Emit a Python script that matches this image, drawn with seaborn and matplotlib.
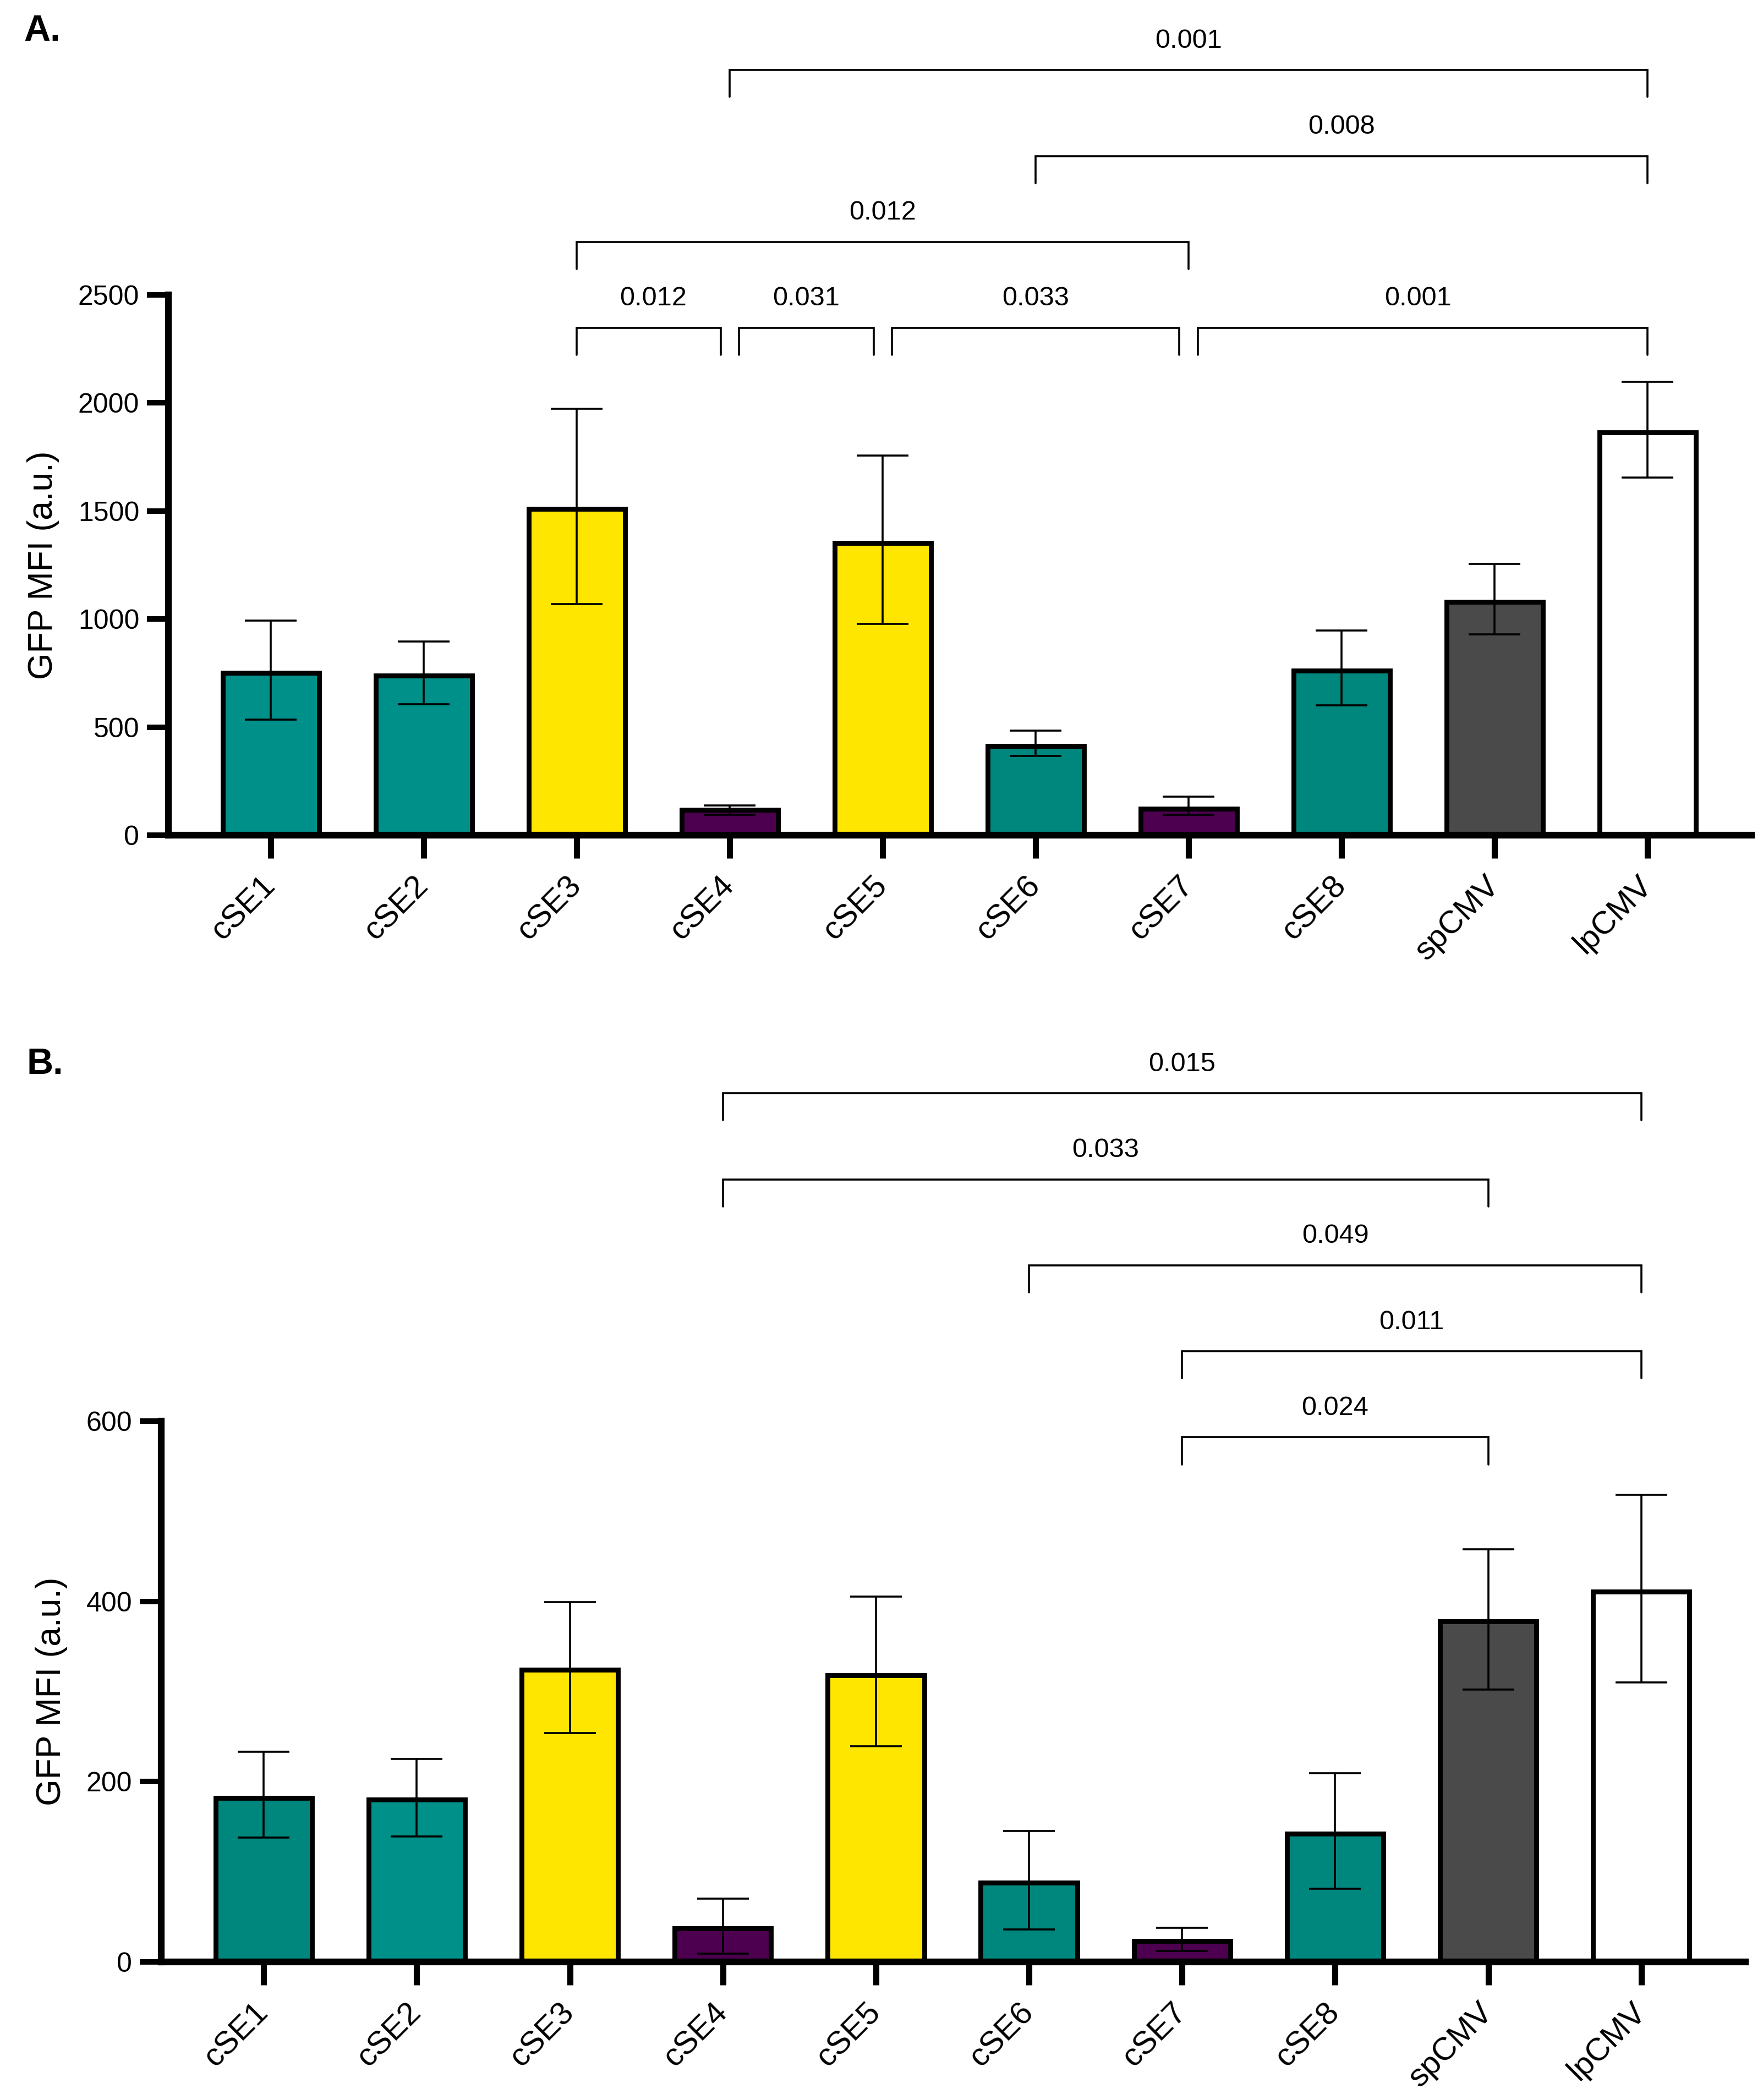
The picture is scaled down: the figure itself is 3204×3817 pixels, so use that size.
import numpy as np
import pandas as pd
import seaborn as sns
import matplotlib.pyplot as plt

sns.set_style('ticks')
plt.rcParams['font.family'] = ['Liberation Sans', 'DejaVu Sans']
plt.rcParams.update({'axes.edgecolor': 'black', 'xtick.color': 'black', 'ytick.color': 'black',
                     'text.color': 'black', 'axes.labelcolor': 'black'})

categories = ['cSE1', 'cSE2', 'cSE3', 'cSE4', 'cSE5', 'cSE6', 'cSE7', 'cSE8', 'spCMV', 'lpCMV']

# panel A
mean_a = [750, 739, 1510, 116, 1353, 412, 122, 762, 1079, 1864]
low_a = [535, 606, 1068, 95, 978, 367, 93, 600, 929, 1655]
high_a = [993, 897, 1974, 137, 1757, 483, 179, 946, 1254, 2097]
pairs_a = [(3, 9), (5, 9), (2, 6), (2, 3), (3, 4), (4, 6), (6, 9)]
pvals_a = ['0.001', '0.008', '0.012', '0.012', '0.031', '0.033', '0.001']

# panel B
mean_b = [182, 180, 324, 37, 318, 88, 23, 142, 378, 411]
low_b = [138, 139, 254, 9, 239, 36, 12, 81, 302, 310]
high_b = [233, 225, 399, 70, 405, 145, 38, 209, 458, 518]
pairs_b = [(3, 9), (3, 8), (5, 9), (6, 9), (6, 8)]
pvals_b = ['0.015', '0.033', '0.049', '0.011', '0.024']

teal = '#00908a'
teal_dk = '#00877d'
yellow = '#ffe600'
purple = '#4d004f'
grey = '#4a4a4a'
colors_a = [teal, teal, yellow, purple, yellow, teal_dk, purple, teal_dk, grey, 'white']
colors_b = [teal_dk, teal, yellow, purple, yellow, teal_dk, purple, teal_dk, grey, 'white']


def panel(ax, mean, low, high, colors, ymax, yticks, pairs, pvals, levels, base):
    df = pd.DataFrame({'cat': categories, 'val': mean})
    sns.barplot(data=df, x='cat', y='val', hue='cat', palette=colors, legend=False,
                width=0.63, edgecolor='black', linewidth=3.2, errorbar=None,
                saturation=1, ax=ax)
    mean = np.array(mean)
    yerr = [mean - np.array(low), np.array(high) - mean]
    ax.errorbar(np.arange(len(mean)), mean, yerr=yerr, fmt='none', ecolor='black',
                elinewidth=1.3, capsize=17, capthick=1.3, zorder=5)
    ax.set_ylim(0, ymax)
    ax.set_xlim(-0.67, 9.68)
    ax.set_yticks(yticks)
    ax.set_xticks(range(len(categories)))
    ax.set_xticklabels(categories, rotation=45, ha='right', va='center',
                       rotation_mode='anchor', fontsize=21)
    ax.tick_params(axis='y', length=14, width=3.6, labelsize=18, pad=5)
    ax.tick_params(axis='x', length=15, width=4, pad=15)
    ax.set_xlabel('')
    ax.set_ylabel('GFP MFI (a.u.)', fontsize=22.5, labelpad=12)
    sns.despine(ax=ax)
    for s in ['left', 'bottom']:
        ax.spines[s].set_linewidth(4.4)

    step = 0.159 * ymax
    drop = 0.05 * ymax
    for k, ((i, j), p) in enumerate(zip(pairs, pvals)):
        lev = levels[k]
        y = base * ymax + lev * step
        # shrink ends that touch a neighbouring bracket on the same level
        xl, xr = i, j
        for m, (a, b) in enumerate(pairs):
            if m != k and levels[m] == lev:
                if b == i:
                    xl = i + 0.06
                if a == j:
                    xr = j - 0.06
        ax.plot([xl, xl, xr, xr], [y - drop, y, y, y - drop], color='black',
                lw=1.3, clip_on=False, solid_joinstyle='miter')
        ax.annotate(p, xy=((i + j) / 2, y), xytext=(0, 11), textcoords='offset points',
                    ha='center', va='bottom', fontsize=17.5, annotation_clip=False)


fig = plt.figure(figsize=(16.02, 19.085), dpi=200)
ax_a = fig.add_axes([0.0955, 0.6023, 0.898, 0.2573])
ax_b = fig.add_axes([0.0914, 0.0658, 0.8986, 0.2575])

panel(ax_a, mean_a, low_a, high_a, colors_a, 2500, [0, 500, 1000, 1500, 2000, 2500],
      pairs_a, pvals_a, [3, 2, 1, 0, 0, 0, 0], 0.939)
panel(ax_b, mean_b, low_b, high_b, colors_b, 600, [0, 200, 400, 600],
      pairs_b, pvals_b, [4, 3, 2, 1, 0], 0.97)

fig.text(0.0134, 0.9932, 'A.', fontsize=24, fontweight='bold', va='top', ha='left')
fig.text(0.0150, 0.5012, 'B.', fontsize=24, fontweight='bold', va='top', ha='left')

fig.savefig('out.png', dpi=200, facecolor='white')
